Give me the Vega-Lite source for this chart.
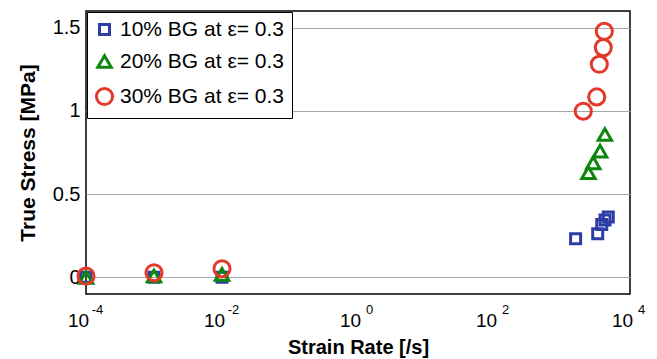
{
  "$schema": "https://vega.github.io/schema/vega-lite/v6.json",
  "width": 544,
  "height": 283,
  "autosize": {"type": "none"},
  "padding": {"left": 86, "top": 11, "right": 27, "bottom": 65},
  "background": "white",
  "config": {
    "view": {"stroke": "black", "strokeWidth": 1.5},
    "font": "Liberation Sans",
    "axis": {
      "domain": false,
      "ticks": false,
      "grid": true,
      "gridColor": "#a8a8a8",
      "gridWidth": 1,
      "labelFont": "Liberation Sans",
      "labelFontSize": 20,
      "labelColor": "black",
      "titleFont": "Liberation Sans",
      "titleFontSize": 21,
      "titleFontWeight": "bold",
      "titleColor": "black"
    }
  },
  "data": {
    "values": [
      {"series": "10% BG at ε= 0.3", "rate": 0.0001, "stress": 0.0},
      {"series": "10% BG at ε= 0.3", "rate": 0.001, "stress": 0.0},
      {"series": "10% BG at ε= 0.3", "rate": 0.01, "stress": 0.0},
      {"series": "10% BG at ε= 0.3", "rate": 1585, "stress": 0.232},
      {"series": "10% BG at ε= 0.3", "rate": 3350, "stress": 0.262},
      {"series": "10% BG at ε= 0.3", "rate": 3840, "stress": 0.318},
      {"series": "10% BG at ε= 0.3", "rate": 4290, "stress": 0.344},
      {"series": "10% BG at ε= 0.3", "rate": 4790, "stress": 0.362},
      {"series": "20% BG at ε= 0.3", "rate": 0.0001, "stress": 0.0},
      {"series": "20% BG at ε= 0.3", "rate": 0.001, "stress": 0.008},
      {"series": "20% BG at ε= 0.3", "rate": 0.01, "stress": 0.018},
      {"series": "20% BG at ε= 0.3", "rate": 2450, "stress": 0.628},
      {"series": "20% BG at ε= 0.3", "rate": 2880, "stress": 0.688},
      {"series": "20% BG at ε= 0.3", "rate": 3630, "stress": 0.758},
      {"series": "20% BG at ε= 0.3", "rate": 4270, "stress": 0.858},
      {"series": "30% BG at ε= 0.3", "rate": 0.0001, "stress": 0.008},
      {"series": "30% BG at ε= 0.3", "rate": 0.001, "stress": 0.028},
      {"series": "30% BG at ε= 0.3", "rate": 0.01, "stress": 0.052},
      {"series": "30% BG at ε= 0.3", "rate": 2055, "stress": 0.998},
      {"series": "30% BG at ε= 0.3", "rate": 3240, "stress": 1.084},
      {"series": "30% BG at ε= 0.3", "rate": 3540, "stress": 1.28},
      {"series": "30% BG at ε= 0.3", "rate": 4050, "stress": 1.38},
      {"series": "30% BG at ε= 0.3", "rate": 4190, "stress": 1.478}
    ]
  },
  "layer": [
    {
      "mark": {"type": "point", "filled": false, "strokeWidth": 3, "opacity": 0},
      "encoding": {
        "x": {
          "field": "rate",
          "type": "quantitative",
          "scale": {"type": "log", "domain": [0.0001, 10000], "nice": false},
          "axis": {
            "orient": "bottom",
            "title": null,
            "grid": false,
            "values": [0.0001, 0.01, 1, 100, 10000],
            "labelExpr": "datum.value < 0.001 ? '-4' : datum.value < 0.1 ? '-2' : datum.value < 10 ? '0' : datum.value < 1000 ? '2' : '4'",
            "labelFontSize": 13,
            "labelPadding": 9,
            "labelOffset": 11,
            "labelFlush": false
          }
        },
        "y": {"field": "stress", "type": "quantitative"}
      }
    },
    {
      "mark": {"type": "point", "filled": false, "strokeWidth": 3, "opacity": 1},
      "encoding": {
        "x": {
          "field": "rate",
          "type": "quantitative",
          "scale": {"type": "log", "domain": [0.0001, 10000], "nice": false},
          "axis": {
            "orient": "bottom",
            "title": "Strain Rate [/s]",
            "values": [0.0001, 0.01, 1, 100, 10000],
            "labelExpr": "'10'",
            "labelFontSize": 19,
            "labelPadding": 17,
            "labelOffset": -8,
            "titlePadding": 7,
            "titleFontSize": 20,
            "labelFlush": false
          }
        },
        "y": {
          "field": "stress",
          "type": "quantitative",
          "scale": {"domain": [-0.1, 1.6], "nice": false, "zero": false},
          "axis": {
            "title": "True Stress [MPa]",
            "values": [0, 0.5, 1, 1.5],
            "format": "~g",
            "labelPadding": 6,
            "titlePadding": 14
          }
        },
        "shape": {
          "field": "series",
          "type": "nominal",
          "scale": {
            "domain": ["10% BG at ε= 0.3", "20% BG at ε= 0.3", "30% BG at ε= 0.3"],
            "range": ["square", "triangle-up", "circle"]
          },
          "legend": {
            "title": null,
            "orient": "top-left",
            "offset": 1,
            "strokeColor": "black",
            "fillColor": "white",
            "padding": 7,
            "labelFont": "Liberation Sans",
            "labelFontSize": 21,
            "labelColor": "black",
            "labelOffset": 5,
            "labelLimit": 400,
            "rowPadding": 8,
            "symbolStrokeWidth": 3
          }
        },
        "color": {
          "field": "series",
          "type": "nominal",
          "scale": {
            "domain": ["10% BG at ε= 0.3", "20% BG at ε= 0.3", "30% BG at ε= 0.3"],
            "range": ["#2c3ea3", "#0c860c", "#e23a2a"]
          }
        },
        "size": {
          "field": "series",
          "type": "nominal",
          "scale": {
            "domain": ["10% BG at ε= 0.3", "20% BG at ε= 0.3", "30% BG at ε= 0.3"],
            "range": [100, 260, 150]
          }
        }
      }
    }
  ],
  "resolve": {"axis": {"x": "independent"}}
}
